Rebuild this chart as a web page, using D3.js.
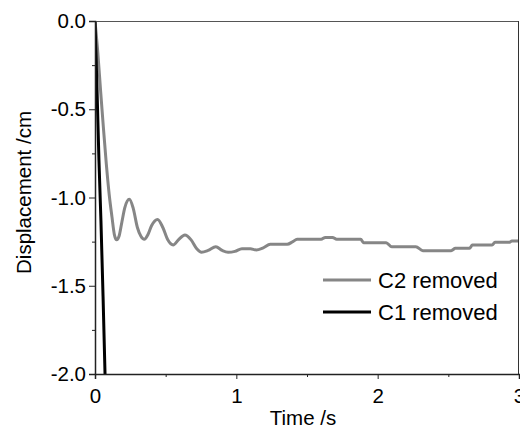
<!DOCTYPE html>
<html><head><meta charset="utf-8">
<script src="https://cdn.jsdelivr.net/npm/d3@7"></script>
<style>
html,body{margin:0;padding:0;background:#fff;}
svg{display:block;font-family:"Liberation Sans",Arial,sans-serif;}
</style></head>
<body><svg id="c" width="520" height="427"></svg>
<script>
// Data
const c2Time = [0,0.02,0.04,0.06,0.08,0.10,0.12,0.137,0.153,0.170,0.19,0.21,0.243,0.27,0.30,0.325,0.349,0.375,0.40,0.443,0.48,0.515,0.553,0.59,0.636,0.68,0.72,0.754,0.80,0.855,0.90,0.942,0.99,1.04,1.10,1.14,1.19,1.24,1.36,1.40,1.43,1.60,1.63,1.68,1.71,1.88,1.90,2.06,2.10,2.27,2.32,2.52,2.55,2.65,2.67,2.81,2.83,2.93,2.95,3.0];
const c2Disp = [0,-0.18,-0.40,-0.61,-0.81,-0.98,-1.11,-1.21,-1.24,-1.22,-1.14,-1.06,-1.01,-1.06,-1.17,-1.22,-1.237,-1.21,-1.16,-1.124,-1.17,-1.24,-1.269,-1.24,-1.212,-1.24,-1.29,-1.31,-1.30,-1.279,-1.30,-1.31,-1.305,-1.29,-1.29,-1.297,-1.285,-1.265,-1.265,-1.25,-1.237,-1.237,-1.226,-1.226,-1.237,-1.237,-1.256,-1.256,-1.279,-1.279,-1.301,-1.301,-1.288,-1.288,-1.269,-1.269,-1.254,-1.254,-1.247,-1.247];
const c1Time = [0,0.014,0.028,0.042,0.057,0.071,0.08];
const c1Disp = [0,-0.38,-0.79,-1.13,-1.56,-2.0,-2.3];
const xTicks = [0,1,2,3];
const xMinor = [0.5,1.5,2.5];
const yTicks = [0,-0.5,-1,-1.5,-2];
const yMinor = [-0.25,-0.75,-1.25,-1.75];
const seriesNames = ["C2 removed","C1 removed"];
const seriesColors = ["#868686","#000000"];

const svg = d3.select("#c");
const L=95, R=519, T=21, B=374;
const x = d3.scaleLinear().domain([0,3]).range([L,R]);
const y = d3.scaleLinear().domain([-2,0]).range([B,T]);
const FS = 20.5;

svg.append("defs").append("clipPath").attr("id","clip")
  .append("rect").attr("x",L).attr("y",T).attr("width",R-L).attr("height",B-T);

const line = d3.line().x(d=>x(d[0])).y(d=>y(d[1])).curve(d3.curveMonotoneX);
const g = svg.append("g").attr("clip-path","url(#clip)");
g.append("path").datum(c2Time.map((t,i)=>[t,c2Disp[i]]))
  .attr("d",line).attr("fill","none").attr("stroke",seriesColors[0]).attr("stroke-width",3).attr("stroke-linejoin","round");
g.append("path").datum(c1Time.map((t,i)=>[t,c1Disp[i]]))
  .attr("d",d3.line().x(d=>x(d[0])).y(d=>y(d[1])))
  .attr("fill","none").attr("stroke",seriesColors[1]).attr("stroke-width",3);

// frame
svg.append("line").attr("x1",L).attr("x2",R).attr("y1",T+0.5).attr("y2",T+0.5).attr("stroke","#555");
svg.append("line").attr("x1",R-0.5).attr("x2",R-0.5).attr("y1",T).attr("y2",B).attr("stroke","#333");

// axes
svg.append("g").attr("transform",`translate(0,${B})`)
  .call(d3.axisBottom(x).tickValues(xTicks).tickFormat(d3.format("d")).tickSize(5).tickPadding(9));
svg.append("g").attr("transform",`translate(0,${B})`)
  .call(d3.axisBottom(x).tickValues(xMinor).tickFormat("").tickSize(3))
  .call(s=>s.select(".domain").remove());
const ya = svg.append("g").attr("transform",`translate(${L},0)`)
  .call(d3.axisLeft(y).tickValues(yTicks).tickFormat(d3.format(".1f")).tickSize(6).tickPadding(3));
svg.append("g").attr("transform",`translate(${L},0)`)
  .call(d3.axisLeft(y).tickValues(yMinor).tickFormat("").tickSize(3))
  .call(s=>s.select(".domain").remove());
svg.selectAll(".domain").attr("stroke","#222").attr("stroke-width",1.5);
svg.selectAll(".tick line").attr("stroke","#222");
svg.selectAll(".tick text").attr("font-size",FS).attr("fill","#000").attr("font-family","Liberation Sans, Arial, sans-serif");
ya.selectAll(".tick text").text(d=>d===0?"0.0":d3.format(".1f")(d).replace("−","-"));

// axis titles
svg.append("text").attr("x",(L+R)/2-4).attr("y",425).attr("text-anchor","middle")
  .attr("font-size",FS).text("Time /s");
svg.append("text").attr("transform",`translate(31,${(T+B)/2-5}) rotate(-90)`).attr("text-anchor","middle")
  .attr("font-size",FS).text("Displacement /cm");

// legend
const leg = svg.append("g");
seriesNames.forEach((n,i)=>{
  const yy = 280 + i*32;
  leg.append("line").attr("x1",323).attr("x2",371).attr("y1",yy).attr("y2",yy)
    .attr("stroke",seriesColors[i]).attr("stroke-width",3);
  leg.append("text").attr("x",378).attr("y",yy).attr("dy","0.35em")
    .attr("font-size",22).text(n);
});
</script></body></html>
